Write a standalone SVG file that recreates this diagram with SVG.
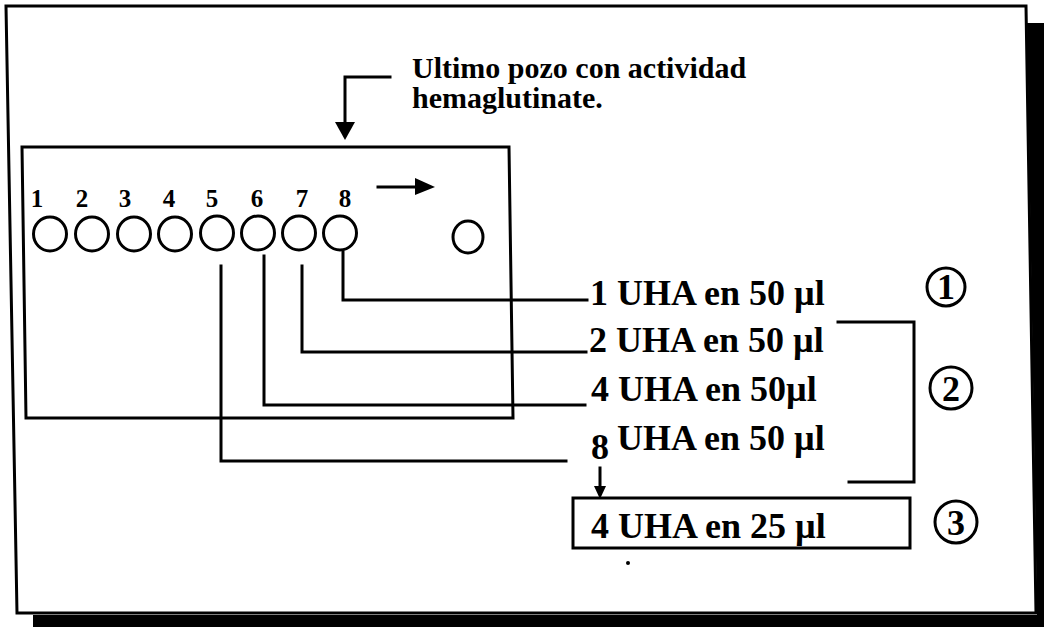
<svg xmlns="http://www.w3.org/2000/svg" width="1044" height="627" viewBox="0 0 1044 627">
<defs>
<style>
.ln{fill:none;stroke:#000;stroke-width:3;stroke-linecap:square}
.well{fill:none;stroke:#000;stroke-width:3}
.num{font-family:"Liberation Serif","Times New Roman",serif;font-weight:bold;font-size:25px;fill:#000;text-anchor:middle}
.lbl{font-family:"Liberation Serif","Times New Roman",serif;font-weight:bold;font-size:36px;fill:#000}
.note{font-family:"Liberation Serif","Times New Roman",serif;font-weight:bold;font-size:30px;fill:#000}
.circ{font-family:"Liberation Serif","Times New Roman",serif;font-weight:bold;font-size:36px;fill:#000;text-anchor:middle}
</style>
</defs>
<rect width="1044" height="627" fill="#fff"/>
<g id="frame">
<path d="M1027,23 H1044 V627 H33 V615 H1037 Z" fill="#000"/>
<path d="M6,6 L1026,6 L1036,613 L17,613 Z" class="ln"/>
</g>
<g id="note">
<text class="note" x="412" y="78">Ultimo pozo con actividad</text>
<text class="note" x="412" y="108">hemaglutinate.</text>
</g>
<g id="plate">
<path d="M22,147 L509,147 L513,418 L26,418 Z" class="ln"/>
<text class="num" x="37" y="207">1</text>
<text class="num" x="82" y="207">2</text>
<text class="num" x="125" y="207">3</text>
<text class="num" x="169" y="207">4</text>
<text class="num" x="212" y="207">5</text>
<text class="num" x="257" y="207">6</text>
<text class="num" x="302" y="207">7</text>
<text class="num" x="345" y="207">8</text>
<ellipse class="well" cx="50" cy="234" rx="16.5" ry="17"/>
<ellipse class="well" cx="92" cy="234" rx="16.5" ry="17"/>
<ellipse class="well" cx="134" cy="234" rx="16.5" ry="17"/>
<ellipse class="well" cx="175" cy="234" rx="16.5" ry="17"/>
<ellipse class="well" cx="217" cy="233" rx="16.5" ry="17"/>
<ellipse class="well" cx="258" cy="233" rx="16.5" ry="17"/>
<ellipse class="well" cx="299" cy="233" rx="16.5" ry="17"/>
<ellipse class="well" cx="340" cy="233" rx="16.5" ry="17"/>
<ellipse class="well" cx="468" cy="237" rx="15" ry="16"/>
</g>
<g id="l1"><text class="lbl" x="590" y="305">1 UHA en 50 µl</text></g>
<g id="l2"><text class="lbl" x="589" y="352">2 UHA en 50 µl</text></g>
<g id="l3"><text class="lbl" x="591" y="401">4 UHA en 50µl</text></g>
<g id="l4"><text class="lbl" x="591" y="459">8</text><text class="lbl" x="617" y="450">UHA en 50 µl</text></g>
<g id="l5">
<rect x="573" y="498" width="337" height="50" class="ln"/>
<text class="lbl" x="591" y="538">4  UHA en 25 µl</text>
</g>
<g id="c1"><circle cx="946" cy="287" r="19" class="well"/><text class="circ" x="946" y="299">1</text></g>
<g id="c2"><circle cx="951" cy="388" r="21" class="well"/><text class="circ" x="951" y="401">2</text></g>
<g id="c3"><circle cx="956" cy="522" r="21" class="well"/><text class="circ" x="956" y="535">3</text></g>
<g id="connectors">
<path class="ln" d="M390,77 H345 V128"/>
<path d="M335,122 L355,122 L345,140 Z" fill="#000"/>
<path class="ln" d="M378,187 H420"/>
<path d="M415,178 L435,187 L415,195 Z" fill="#000"/>
<path class="ln" d="M343,252 V300 H587"/>
<path class="ln" d="M302,266 V352 H586"/>
<path class="ln" d="M264,256 V405 H585"/>
<path class="ln" d="M221,266 V461 H566"/>
<path class="ln" d="M600,468 V488"/>
<path d="M594,486 L606,486 L600,499 Z" fill="#000"/>
<path class="ln" d="M838,322 H914 V482 H849"/>
</g>
<circle cx="628" cy="563" r="2" fill="#000"/>
</svg>
